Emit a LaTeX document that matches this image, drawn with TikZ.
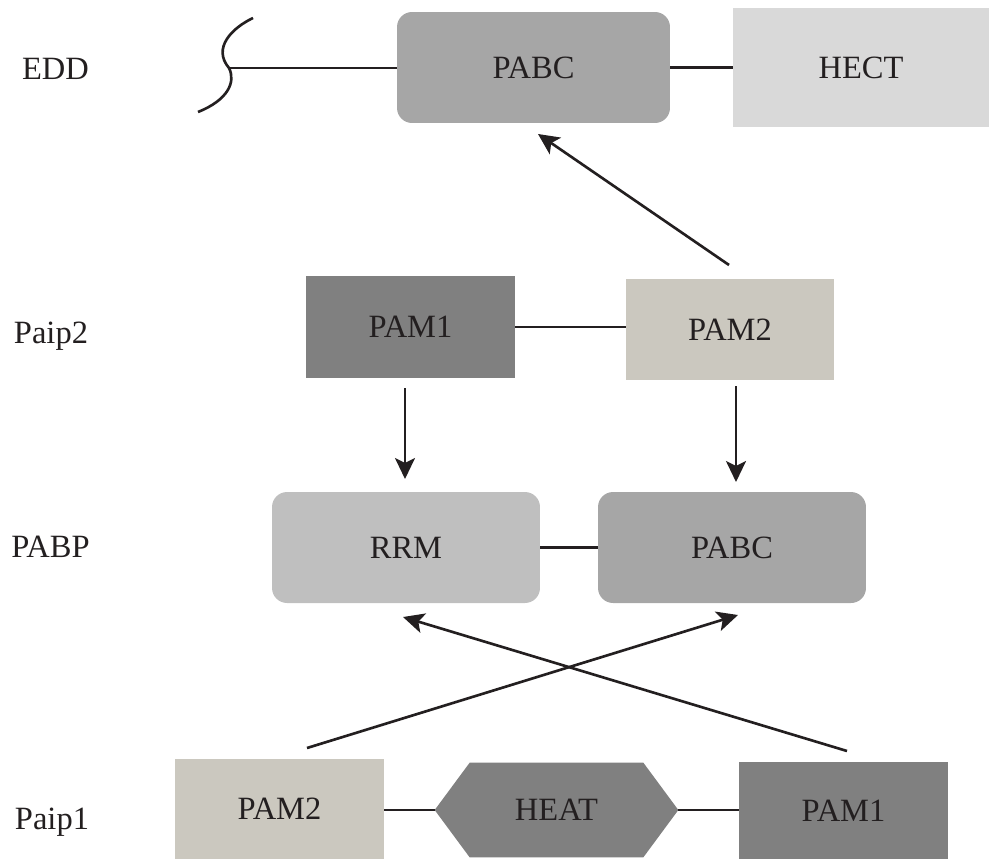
\documentclass[tikz,border=0pt]{standalone}
\usepackage{fontspec}
\setmainfont{Liberation Serif}
\usetikzlibrary{arrows.meta}
\definecolor{ink}{HTML}{231F20}
\definecolor{cA}{HTML}{A6A6A6}
\definecolor{cB}{HTML}{D9D9D9}
\definecolor{cC}{HTML}{808080}
\definecolor{cD}{HTML}{CBC8BF}
\definecolor{cE}{HTML}{BFBFBF}
\begin{document}
\begin{tikzpicture}[x=0.02cm,y=-0.02cm,
  every node/.style={font=\fontsize{18.5}{22}\selectfont, text=ink, inner sep=0pt},
  rbox/.style={rectangle, rounded corners=0.3cm, minimum width=5.36cm, minimum height=2.22cm},
  lbl/.style={anchor=base},
  conn/.style={draw=ink, line width=1.5pt},
  arr/.style={draw=ink, line width=1.5pt, -{Stealth[length=0.42cm, width=0.4cm, inset=0.1cm]}}]
\useasboundingbox (0,0) rectangle (989,859);
% row labels
\node[lbl] (lEDD) at (55.5,79) {EDD};
\node[lbl] (lPaip2) at (51,343) {Paip2};
\node[lbl] (lPABP) at (50.5,557) {PABP};
\node[lbl] (lPaip1) at (52,829) {Paip1};
% top row
\node[rbox, fill=cA, minimum width=5.46cm] (pabcT) at (533.5,67.5) {PABC};
\node[fill=cB, minimum width=5.12cm, minimum height=2.38cm] (hect) at (861,67.5) {HECT};
\coordinate (cut) at (229,68);
\draw[ink, line width=1.5pt] (253,18) .. controls (232,28) and (212,48) .. (cut) .. controls (236,82) and (228,100) .. (198,112);
\draw[conn] (cut) -- (cut -| pabcT.west);
\draw[conn] (pabcT.east) -- (pabcT.east -| hect.west);
% middle row
\node[fill=cC, minimum width=4.18cm, minimum height=2.04cm] (pam1m) at (410.5,327) {PAM1};
\node[fill=cD, minimum width=4.16cm, minimum height=2.02cm] (pam2m) at (730,329.5) {PAM2};
\draw[conn] (pam1m.east) -- (pam1m.east -| pam2m.west);
% PABP row
\node[rbox, fill=cE] (rrm) at (406,547.5) {RRM};
\node[rbox, fill=cA] (pabcM) at (732,547.5) {PABC};
\draw[conn] (rrm.east) -- (pabcM.west);
% bottom row
\node[fill=cD, minimum width=4.18cm, minimum height=2.0cm] (pam2b) at (279.5,809) {PAM2};
\node[minimum width=4.86cm, minimum height=1.88cm] (heat) at (556.5,810) {};
\fill[cC] (heat.west) -- ([xshift=0.7cm]heat.north west) -- ([xshift=-0.7cm]heat.north east) -- (heat.east) -- ([xshift=-0.7cm]heat.south east) -- ([xshift=0.7cm]heat.south west) -- cycle;
\node at (heat.center) {HEAT};
\node[fill=cC, minimum width=4.18cm, minimum height=1.94cm] (pam1b) at (843.5,810.5) {PAM1};
\draw[conn] (heat.west -| pam2b.east) -- (heat.west);
\draw[conn] (heat.east) -- (heat.east -| pam1b.west);
% arrows
\coordinate (a1s) at (729,265); \coordinate (a1e) at (538,134);
\draw[arr] (a1s) -- (a1e);
\coordinate (a2s) at (405,388); \coordinate (a2e) at (405,479);
\draw[arr] (a2s) -- (a2e);
\coordinate (a3s) at (736,386); \coordinate (a3e) at (736,482);
\draw[arr] (a3s) -- (a3e);
\coordinate (a4s) at (307,748); \coordinate (a4e) at (738,615);
\draw[arr] (a4s) -- (a4e);
\coordinate (a5s) at (847,751); \coordinate (a5e) at (403,617);
\draw[arr] (a5s) -- (a5e);
\end{tikzpicture}
\end{document}
